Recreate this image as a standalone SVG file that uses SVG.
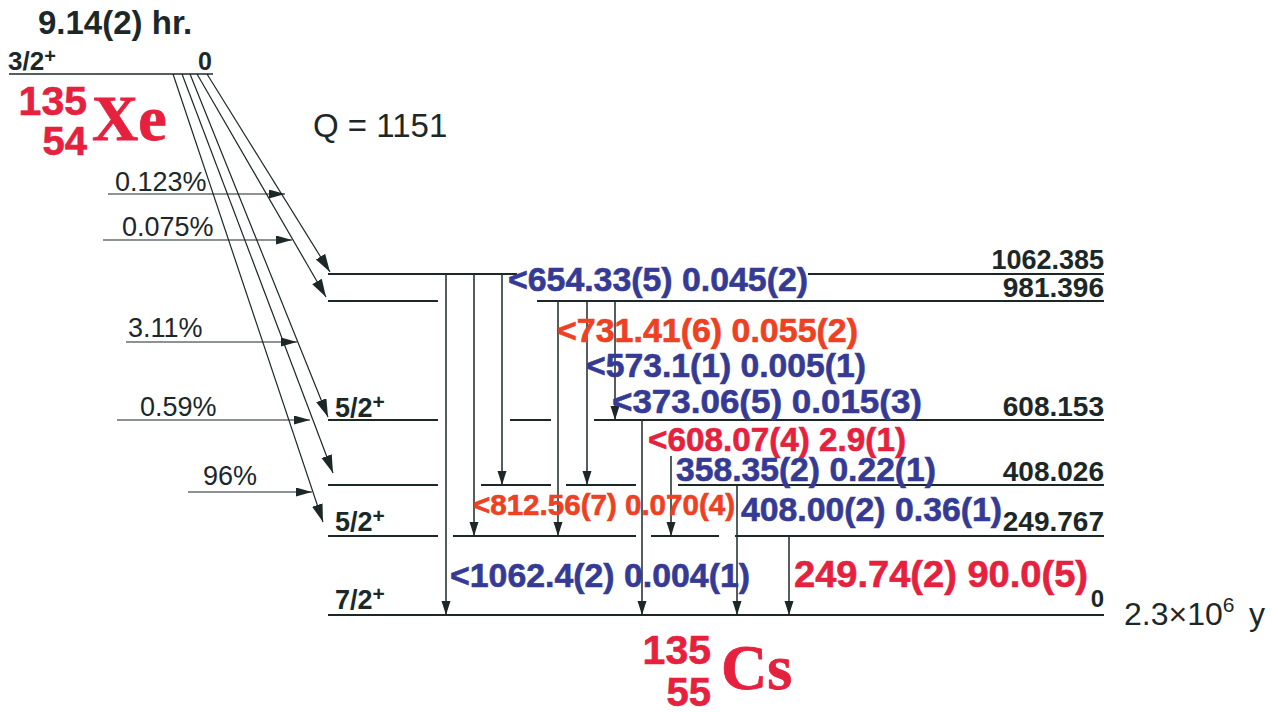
<svg xmlns="http://www.w3.org/2000/svg" width="1278" height="712" viewBox="0 0 1278 712">
<defs>
<style>
.lv{stroke:#1c2828;stroke-width:2;fill:none}
.gm{stroke:#1c2828;stroke-width:1.5;fill:none;marker-end:url(#ag)}
.bt{stroke:#1c2828;stroke-width:1.2;fill:none;marker-end:url(#ab)}
.fd{stroke:#1c2828;stroke-width:1.2;fill:none;marker-end:url(#af)}
.b{font-family:"Liberation Sans",Arial,sans-serif;font-weight:bold}
.r{font-family:"Liberation Sans",Arial,sans-serif}
.dk{fill:#1c2828}
.bl{fill:#353b94;stroke:#353b94;stroke-width:0.6}
.cr{fill:#e5213e;stroke:#e5213e;stroke-width:0.6}
.or{fill:#ee4123;stroke:#ee4123;stroke-width:0.6}
.sf{font-family:"Liberation Serif","Times New Roman",serif;font-weight:bold;fill:#e5213e;stroke:#e5213e;stroke-width:0.8}
</style>
<marker id="ag" markerUnits="userSpaceOnUse" markerWidth="14" markerHeight="10" refX="14" refY="4.5" orient="auto"><path d="M0,0 L14,4.5 L0,9 z" fill="#1c2828"/></marker>
<marker id="ab" markerUnits="userSpaceOnUse" markerWidth="18" markerHeight="12" refX="18" refY="5.5" orient="auto"><path d="M0,0 L18,5.5 L0,11 z" fill="#1c2828"/></marker>
<marker id="af" markerUnits="userSpaceOnUse" markerWidth="16" markerHeight="10" refX="16" refY="4.5" orient="auto"><path d="M0,0 L16,4.5 L0,9 z" fill="#1c2828"/></marker>
</defs>
<rect width="1278" height="712" fill="#ffffff"/>

<g id="parent-Xe">
<text class="b dk" x="38" y="34" font-size="33">9.14(2) hr.</text>
<line x1="9" y1="74" x2="213" y2="74" stroke="#1c2828" stroke-width="1.6"/>
<text class="b dk" x="8" y="70" font-size="26">3/2<tspan font-size="20" dy="-7">+</tspan></text>
<text class="b dk" x="212" y="70" font-size="25" text-anchor="end">0</text>
<text class="b cr" x="87" y="115" font-size="41" text-anchor="end">135</text>
<text class="b cr" x="87" y="155" font-size="40" text-anchor="end">54</text>
<text class="sf" x="92" y="140" font-size="64">Xe</text>
</g>

<g id="qvalue">
<text class="r dk" x="313" y="137" font-size="33">Q = 1151</text>
</g>

<g id="level-1062">
<line class="lv" x1="328" y1="274" x2="517" y2="274"/>
<line class="lv" x1="808" y1="274" x2="1104" y2="274"/>
<text class="b dk" x="1104" y="269" font-size="27" text-anchor="end">1062.385</text>
</g>
<g id="level-981">
<line class="lv" x1="328" y1="301" x2="438" y2="301"/>
<line class="lv" x1="537" y1="301" x2="1104" y2="301"/>
<text class="b dk" x="1104" y="297" font-size="28" text-anchor="end">981.396</text>
</g>
<g id="level-608">
<line class="lv" x1="328" y1="420" x2="438" y2="420"/>
<line class="lv" x1="510" y1="420" x2="551" y2="420"/>
<line class="lv" x1="594" y1="420" x2="1104" y2="420"/>
<text class="b dk" x="335" y="417" font-size="27">5/2<tspan font-size="21" dy="-8">+</tspan></text>
<text class="b dk" x="1104" y="416" font-size="28" text-anchor="end">608.153</text>
</g>
<g id="level-408">
<line class="lv" x1="328" y1="485" x2="438" y2="485"/>
<line class="lv" x1="481" y1="485" x2="551" y2="485"/>
<line class="lv" x1="566" y1="485" x2="636" y2="485"/>
<line class="lv" x1="678" y1="485" x2="1104" y2="485"/>
<text class="b dk" x="1104" y="481" font-size="28" text-anchor="end">408.026</text>
</g>
<g id="level-249">
<line class="lv" x1="328" y1="536" x2="438" y2="536"/>
<line class="lv" x1="453" y1="536" x2="636" y2="536"/>
<line class="lv" x1="651" y1="536" x2="719" y2="536"/>
<line class="lv" x1="735" y1="536" x2="1104" y2="536"/>
<text class="b dk" x="335" y="531" font-size="27">5/2<tspan font-size="21" dy="-8">+</tspan></text>
<text class="b dk" x="1104" y="531" font-size="28" text-anchor="end">249.767</text>
</g>
<g id="level-0">
<line class="lv" x1="328" y1="615" x2="1104" y2="615"/>
<text class="b dk" x="335" y="609" font-size="27">7/2<tspan font-size="21" dy="-8">+</tspan></text>
<text class="b dk" x="1104" y="607" font-size="24" text-anchor="end">0</text>
<text class="r dk" x="1124" y="625" font-size="32">2.3×10<tspan font-size="21" dy="-13">6</tspan></text>
<text class="r dk" x="1249" y="625" font-size="32">y</text>
</g>

<g id="daughter-Cs">
<text class="b cr" x="711" y="664" font-size="41" text-anchor="end">135</text>
<text class="b cr" x="711" y="706" font-size="40" text-anchor="end">55</text>
<text class="sf" x="721" y="689" font-size="64">Cs</text>
</g>

<g id="connectors">
<line class="bt" x1="207" y1="74" x2="330" y2="272"/>
<line class="bt" x1="197" y1="74" x2="326" y2="297"/>
<line class="bt" x1="190" y1="74" x2="328" y2="417"/>
<line class="bt" x1="182" y1="74" x2="333" y2="473"/>
<line class="bt" x1="173" y1="74" x2="323" y2="522"/>
<line class="fd" x1="108" y1="194" x2="285" y2="194"/>
<line class="fd" x1="103" y1="240" x2="292" y2="240"/>
<line class="fd" x1="126" y1="342" x2="297" y2="342"/>
<line class="fd" x1="117" y1="420" x2="310" y2="420"/>
<line class="fd" x1="188" y1="492" x2="312" y2="492"/>
<line class="gm" x1="446" y1="274" x2="446" y2="615"/>
<line class="gm" x1="474" y1="274" x2="474" y2="536"/>
<line class="gm" x1="502" y1="274" x2="502" y2="485"/>
<line class="gm" x1="558" y1="301" x2="558" y2="536"/>
<line class="gm" x1="587" y1="301" x2="587" y2="485"/>
<line class="gm" x1="615" y1="301" x2="615" y2="420"/>
<line class="gm" x1="642" y1="420" x2="642" y2="615"/>
<line class="gm" x1="671" y1="456" x2="671" y2="536"/>
<line class="gm" x1="737" y1="485" x2="737" y2="615"/>
<line class="gm" x1="789" y1="536" x2="789" y2="615"/>
</g>

<g id="feed-labels">
<text class="r dk" x="115" y="191" font-size="27">0.123%</text>
<text class="r dk" x="122" y="236" font-size="27">0.075%</text>
<text class="r dk" x="128" y="337" font-size="27">3.11%</text>
<text class="r dk" x="140" y="416" font-size="27">0.59%</text>
<text class="r dk" x="203" y="485" font-size="27">96%</text>
</g>

<g id="gamma-labels">
<text class="b bl" x="508" y="291" font-size="33" textLength="300" lengthAdjust="spacingAndGlyphs">&lt;654.33(5) 0.045(2)</text>
<text class="b or" x="557" y="342" font-size="33" textLength="301" lengthAdjust="spacingAndGlyphs">&lt;731.41(6) 0.055(2)</text>
<text class="b bl" x="586" y="377" font-size="33" textLength="280" lengthAdjust="spacingAndGlyphs">&lt;573.1(1) 0.005(1)</text>
<text class="b bl" x="612" y="413" font-size="33" textLength="310" lengthAdjust="spacingAndGlyphs">&lt;373.06(5) 0.015(3)</text>
<text class="b cr" x="648" y="451" font-size="33" textLength="258" lengthAdjust="spacingAndGlyphs">&lt;608.07(4) 2.9(1)</text>
<text class="b bl" x="676" y="481" font-size="33" textLength="260" lengthAdjust="spacingAndGlyphs">358.35(2) 0.22(1)</text>
<text class="b or" x="473" y="515" font-size="30" textLength="262" lengthAdjust="spacingAndGlyphs">&lt;812.56(7) 0.070(4)</text>
<text class="b bl" x="741" y="521" font-size="33" textLength="261" lengthAdjust="spacingAndGlyphs">408.00(2) 0.36(1)</text>
<text class="b bl" x="450" y="587" font-size="34" textLength="300" lengthAdjust="spacingAndGlyphs">&lt;1062.4(2) 0.004(1)</text>
<text class="b cr" x="794" y="587" font-size="37" textLength="294" lengthAdjust="spacingAndGlyphs">249.74(2) 90.0(5)</text>
</g>
</svg>
